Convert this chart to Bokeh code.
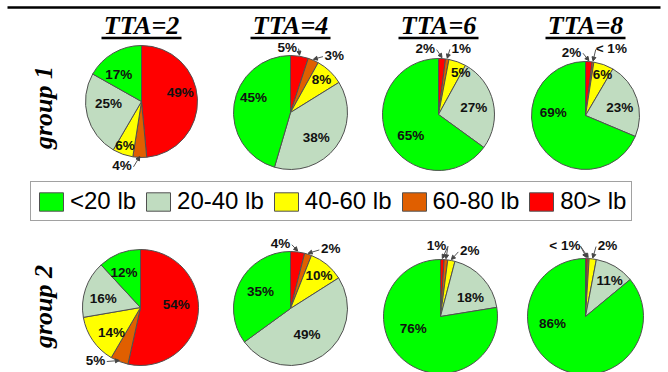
import math
from bokeh.plotting import figure
from bokeh.models import ColumnDataSource, Range1d, Legend, LegendItem, Arrow, NormalHead
from bokeh.core.properties import value
from bokeh.embed import file_html
from bokeh.resources import INLINE

W, H = 668, 372

# ---------------- data ----------------
categories = ["<20 lb", "20-40 lb", "40-60 lb", "60-80 lb", "80> lb"]
tta_labels = ["TTA=2", "TTA=4", "TTA=6", "TTA=8"]
group_labels = ["group 1", "group 2"]

# percentages in category order (<20, 20-40, 40-60, 60-80, 80>)
g1_tta2 = [17, 25, 6, 4, 49]
g1_tta4 = [45, 38, 8, 3, 5]
g1_tta6 = [65, 27, 5, 1, 2]
g1_tta8 = [69, 23, 6, 0.5, 2]
g2_tta2 = [12, 16, 14, 5, 54]
g2_tta4 = [35, 49, 10, 2, 4]
g2_tta6 = [76, 18, 2, 1, 1]
g2_tta8 = [86, 11, 2, 0.5, 0.5]

values = [[g1_tta2, g1_tta4, g1_tta6, g1_tta8],
          [g2_tta2, g2_tta4, g2_tta6, g2_tta8]]

# ---------------- style / layout ----------------
colors = ["#00ff00", "#c0dcc0", "#ffff00", "#e05f00", "#ff0000"]
pie_cx = [[141, 290, 438, 585], [140, 290, 440, 585]]
pie_cy = [[101, 112, 114, 115], [307, 308, 316, 316]]
pie_r = [[56, 57, 56, 54], [58, 57, 57, 58]]
# label placement per slice: (radius factor, angle nudge in degrees); None = shares the 80> label
label_layout = [
    [[(.63, -10), (.59, 12), (.84, 1), (1.2, 15), (.71, -10)],
     [(.70, 14), (.63, 7), (.79, 0), (1.26, 14), (1.14, -12)],
     [(.62, -10), (.64, 2), (.85, 8), (1.25, 10), (1.2, -15)],
     [(.60, 39), (.65, 5), (.82, 3), (1.33, 13), (1.2, -16)]],
    [[(.66, -4), (.66, -5), (.66, -6), (1.2, 19), (.62, -11)],
     [(.60, 2), (.54, 2), (.77, 1), (1.26, 16), (1.15, -16)],
     [(.52, 26), (.62, 10), (1.26, 13), None, (1.25, -5)],
     [(.58, 53), (.75, 3), (1.28, 10), None, (1.28, -17)]],
]
draw_order = [4, 3, 2, 1, 0]  # clockwise from 12 o'clock: 80>, 60-80, 40-60, 20-40, <20


def sy(y):
    return H - y


def pct_text(v):
    return "< 1%" if v < 1 else f"{v:g}%"


p = figure(width=W, height=H, x_range=Range1d(0, W), y_range=Range1d(0, H),
           output_backend="svg", toolbar_location=None, min_border=0,
           x_axis_type=None, y_axis_type=None)
p.outline_line_color = None
p.background_fill_color = "white"
p.border_fill_color = "white"

label_src = dict(x=[], y=[], text=[])
arrow_src = dict(xs=[], ys=[], xe=[], ye=[])
first_renderer = None
first_index = {}

for gi in range(2):
    for ti in range(4):
        vals = values[gi][ti]
        cx, cy, r = pie_cx[gi][ti], sy(pie_cy[gi][ti]), pie_r[gi][ti]
        total = float(sum(vals))
        cum = 0.0
        src = dict(x=[], y=[], r=[], s=[], e=[], c=[])
        mids = {}
        for row, k in enumerate(draw_order):
            a0 = cum / total * 360.0
            cum += vals[k]
            a1 = cum / total * 360.0
            mids[k] = (a0 + a1) / 2.0
            src["x"].append(cx); src["y"].append(cy); src["r"].append(r)
            src["s"].append(math.radians(90 - a0)); src["e"].append(math.radians(90 - a1))
            src["c"].append(colors[k])
            if gi == 0 and ti == 0:
                first_index[k] = row
        rend = p.wedge(x="x", y="y", radius="r", start_angle="s", end_angle="e",
                       direction="clock", fill_color="c", line_color="#505050",
                       line_width=1, source=ColumnDataSource(src))
        if first_renderer is None:
            first_renderer = rend
        # labels
        text_pos = {}
        for k in draw_order:
            lay = label_layout[gi][ti][k]
            if lay is None:
                continue
            f, nudge = lay
            ang = math.radians(mids[k] + nudge)
            tx = cx + math.sin(ang) * r * f
            ty = cy + math.cos(ang) * r * f
            txt = pct_text(vals[k])
            label_src["x"].append(tx); label_src["y"].append(ty); label_src["text"].append(txt)
            text_pos[k] = (tx, ty, f, txt)
        for k in draw_order:
            lay = label_layout[gi][ti][k]
            src_k = k if lay is not None else 4
            tx, ty, f, txt = text_pos[src_k]
            if f <= 1.0:
                continue
            m = math.radians(mids[k])
            ex = cx + math.sin(m) * r
            ey = cy + math.cos(m) * r
            hw = 0.5 * 13.5 * (0.62 * len(txt.replace(" ", "")) + 0.3)
            sx_ = tx + (hw + 1 if ex >= tx else -(hw + 1))
            arrow_src["xs"].append(sx_); arrow_src["ys"].append(ty - 1)
            arrow_src["xe"].append(ex); arrow_src["ye"].append(ey + 1)

p.add_layout(Arrow(end=NormalHead(size=4, fill_color="#444444", line_color="#444444"),
                   x_start="xs", y_start="ys", x_end="xe", y_end="ye",
                   line_color="#555555", line_width=1,
                   source=ColumnDataSource(arrow_src)))

p.text(x="x", y="y", text="text", source=ColumnDataSource(label_src),
       text_font=value("Liberation Sans"), text_font_style="bold",
       text_font_size="13.5px", text_align="center", text_baseline="middle",
       text_color="#111111")

# column titles
title_x = pie_cx[0]
p.text(x=title_x, y=[sy(25)] * 4, text=tta_labels,
       text_font=value("Liberation Serif"), text_font_style="bold italic",
       text_font_size="26px", text_align="center", text_baseline="middle",
       text_color="black")
p.segment(x0=[x - 40 for x in title_x], y0=[sy(37.5)] * 4,
          x1=[x + 40 for x in title_x], y1=[sy(37.5)] * 4,
          line_color="black", line_width=2.5)

# row labels
p.text(x=[43, 43], y=[sy(107), sy(306)], text=group_labels, angle=math.pi / 2,
       text_font=value("Liberation Serif"), text_font_style="bold italic",
       text_font_size="26px", text_align="center", text_baseline="middle",
       text_color="black")

# top rule
p.segment(x0=[7], y0=[sy(7)], x1=[660], y1=[sy(7)], line_color="black", line_width=2.5)

# legend
items = [LegendItem(label=categories[k], renderers=[first_renderer], index=first_index[k])
         for k in range(5)]
legend = Legend(items=items, orientation="horizontal", location=(30, H - 221),
                glyph_width=30, glyph_height=23, label_standoff=4, spacing=7,
                padding=5, margin=0, label_text_font="Liberation Sans",
                label_text_font_size="24px", label_text_color="black",
                border_line_color="#444444", border_line_width=1,
                background_fill_color="white", background_fill_alpha=1.0)
p.add_layout(legend)

open("out.html", "w").write(file_html(p, INLINE))
